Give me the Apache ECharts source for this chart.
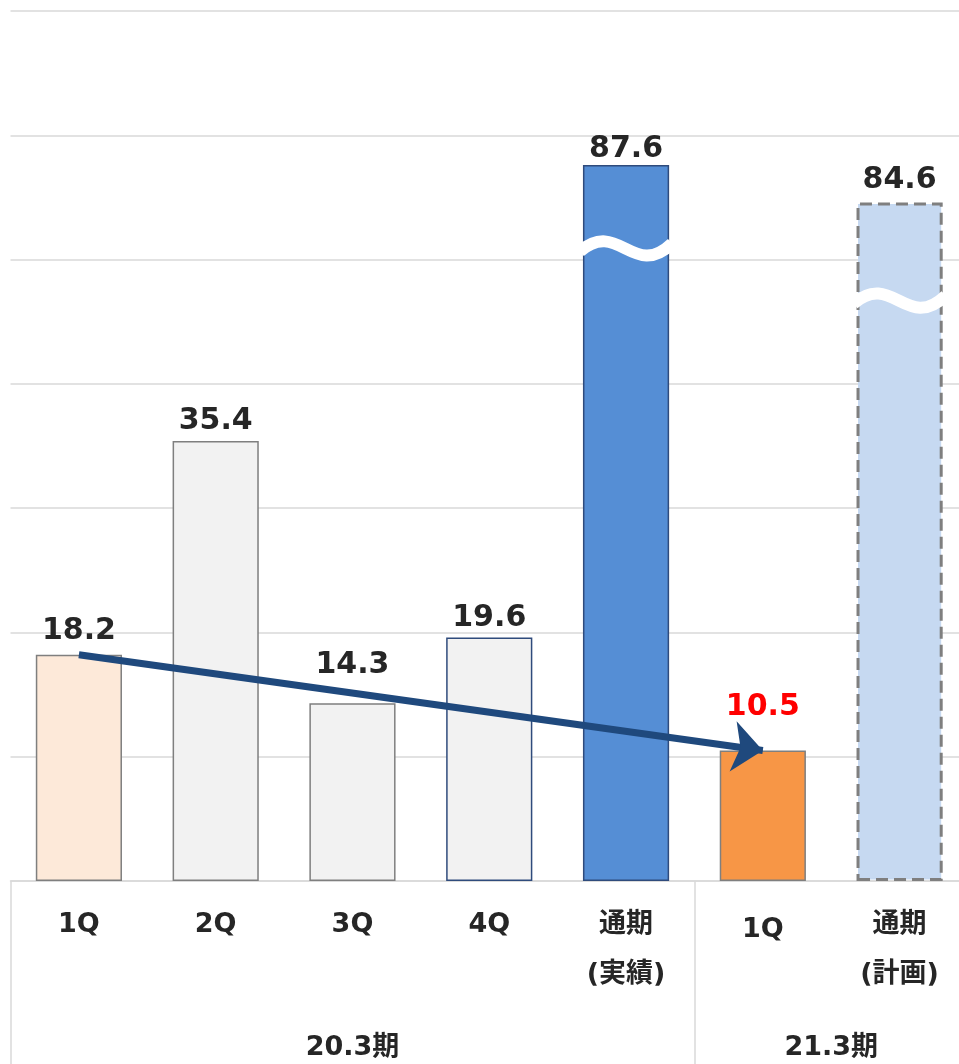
<!DOCTYPE html>
<html>
<head>
<meta charset="utf-8">
<script src="https://cdn.jsdelivr.net/npm/echarts@6/dist/echarts.min.js"></script>
<style>
html,body{margin:0;padding:0;background:#fff;overflow:hidden;width:959px;height:1064px;}
#chart{width:971px;height:1064px;}
</style>
</head>
<body>
<div id="chart"></div>
<script>
// ---- data ----
const categories = ['1Q', '2Q', '3Q', '4Q', '通期\n(実績)', '1Q', '通期\n(計画)'];
const valueLabels = [18.2, 35.4, 14.3, 19.6, 87.6, 10.5, 84.6];
// drawn heights: the two full-year bars are drawn with an axis break (compressed)
const drawnHeights = [18.2, 35.4, 14.3, 19.6, 57.6, 10.5, 54.6];
// axis-break wave marks: [category index, value where the wave is drawn]
const breakMarks = [[4, 50.9], [6, 46.7]];
const groupNames = ['20.3期', '21.3期'];
const groupSizes = [5, 2];
const yMin = 0, yMax = 70, yInterval = 10;
// arrow from previous-year 1Q to current-year 1Q
const arrowFrom = 0, arrowTo = 5;

// ---- styles ----
const fills = ['#fde9d9', '#f2f2f2', '#f2f2f2', '#f2f2f2', '#558ed5', '#f79646', '#c6d9f1'];
const borders = ['#7f7f7f', '#7f7f7f', '#7f7f7f', '#2f4b7c', '#2f4b7c', '#7f7f7f', '#7f7f7f'];
const borderTypes = ['solid', 'solid', 'solid', 'solid', 'solid', 'solid', 'dashed'];
const borderWidths = [1.5, 1.5, 1.5, 1.5, 1.5, 1.5, 3];
const labelColors = ['#262626', '#262626', '#262626', '#262626', '#262626', '#ff0000', '#262626'];
const labelDistances = [9, 5, 23, 4, 1, 28, 7];
const catLabelPadTop = [0, 0, 0, 0, 0, 5, 0];

const FONT = "'DejaVu Sans', 'Noto Sans CJK JP', sans-serif";
const BAR_FRAC = 0.63;

// group boundaries & centers
const boundaries = [];
const groupCenters = [];
let acc = 0;
groupSizes.forEach(s => { boundaries.push(acc); groupCenters.push(acc + s / 2); acc += s; });

const barData = drawnHeights.map((h, i) => ({
  value: h,
  itemStyle: {
    color: fills[i],
    borderColor: borders[i],
    borderWidth: borderWidths[i],
    borderType: borderTypes[i],
    borderDashOffset: 0
  },
  label: {
    show: true,
    position: 'top',
    distance: labelDistances[i],
    formatter: () => valueLabels[i].toFixed(1),
    color: labelColors[i],
    fontSize: 30,
    fontWeight: 'bold',
    fontFamily: FONT
  }
}));

const catData = categories.map((c, i) => ({
  value: c,
  textStyle: {padding: [catLabelPadTop[i], 0, 0, 0]}
}));

const chart = echarts.init(document.getElementById('chart'), null, {renderer: 'canvas'});
chart.setOption({
  animation: false,
  backgroundColor: '#ffffff',
  grid: {left: 10.5, right: 0, top: 11, bottom: 183, containLabel: false},
  xAxis: [
    {
      type: 'category',
      data: catData,
      axisLine: {show: true, lineStyle: {color: '#d9d9d9', width: 1.5}},
      axisTick: {
        show: true,
        interval: (i) => boundaries.indexOf(i) >= 0,
        length: 183,
        lineStyle: {color: '#d9d9d9', width: 1.5}
      },
      axisLabel: {
        interval: 0,
        margin: 19,
        color: '#262626',
        fontSize: 27,
        fontWeight: 'bold',
        fontFamily: FONT,
        lineHeight: 50
      }
    },
    {
      type: 'value',
      position: 'bottom',
      min: 0,
      max: groupSizes.reduce((a, b) => a + b, 0),
      interval: 0.5,
      axisLine: {show: false},
      axisTick: {show: false},
      splitLine: {show: false},
      axisLabel: {
        margin: 152,
        color: '#262626',
        fontSize: 27,
        fontWeight: 'bold',
        fontFamily: FONT,
        lineHeight: 30,
        showMinLabel: true,
        showMaxLabel: true,
        formatter: (v) => {
          const k = groupCenters.findIndex(c => Math.abs(c - v) < 1e-6);
          return k >= 0 ? groupNames[k] : '';
        }
      }
    }
  ],
  yAxis: {
    type: 'value',
    min: yMin,
    max: yMax,
    interval: yInterval,
    axisLine: {show: false},
    axisTick: {show: false},
    axisLabel: {show: false},
    splitLine: {show: true, lineStyle: {color: '#d9d9d9', width: 1.5}}
  },
  series: [
    {
      type: 'bar',
      xAxisIndex: 0,
      barWidth: (BAR_FRAC * 100) + '%',
      data: barData,
      z: 2,
      markLine: {
        silent: true,
        symbol: ['none', 'arrow'],
        symbolSize: [38, 30],
        label: {show: false},
        lineStyle: {color: '#1f497d', width: 7, type: 'solid'},
        z: 10,
        data: [[
          {coord: [arrowFrom, valueLabels[arrowFrom]]},
          {coord: [arrowTo, drawnHeights[arrowTo]]}
        ]]
      }
    },
    {
      type: 'custom',
      xAxisIndex: 0,
      z: 5,
      silent: true,
      data: breakMarks,
      renderItem: (params, api) => {
        const p = api.coord([api.value(0), api.value(1)]);
        const band = api.size([1, 0])[0];
        const w = band * BAR_FRAC + 6;
        const x0 = p[0] - w / 2, x1 = p[0] + w / 2;
        const y = p[1];
        return {
          type: 'bezierCurve',
          shape: {
            x1: x0, y1: y + 3,
            cpx1: x0 + w * 0.42, cpy1: y - 30,
            cpx2: x0 + w * 0.58, cpy2: y + 32,
            x2: x1, y2: y - 5
          },
          style: {stroke: '#ffffff', lineWidth: 12, fill: null}
        };
      }
    }
  ]
});
</script>
</body>
</html>
